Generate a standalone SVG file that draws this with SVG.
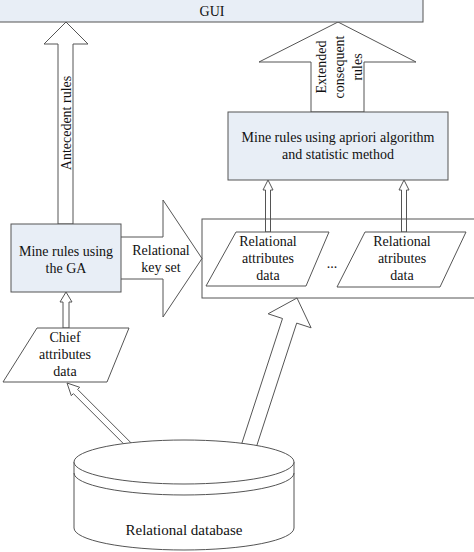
<svg xmlns="http://www.w3.org/2000/svg" width="474" height="552" viewBox="0 0 474 552">
<style>
.box{fill:#e8eef6;stroke:#555;stroke-width:1}
.shp{fill:#fff;stroke:#555;stroke-width:1;stroke-linejoin:miter}
.t{font-family:'Liberation Serif','Times New Roman',serif;font-size:14px;fill:#111;text-anchor:middle}
</style>
<rect width="474" height="552" fill="#fff"/>
<g id="connectors">
<path class="shp" d="M66,22 L88,44 L73,44 L73,224 L58,224 L58,44 L44,44 Z"/>
<path class="shp" d="M338,22 L416,62 L364,62 L364,112 L311,112 L311,62 L259,62 Z"/>
<path class="shp" d="M268,180 L273,190 L270.5,190 L270.5,232 L265.5,232 L265.5,190 L263,190 Z"/>
<path class="shp" d="M404,180 L409,190 L406.5,190 L406.5,232 L401.5,232 L401.5,190 L399,190 Z"/>
<path class="shp" d="M66,292 L72,302 L69,302 L69,328 L63,328 L63,302 L60,302 Z"/>
<path class="shp" d="M120,237 L163,237 L163,200 L202,258.5 L163,317 L163,279 L120,279 Z"/>
<path class="shp" d="M67,383 L79.7,387.3 L77.6,389.4 L130.6,442.4 L126.4,446.6 L73.4,393.6 L71.3,395.7 Z"/>
<path class="shp" d="M297,298 L311.1,327.8 L296.7,323.1 L256,448 L241.8,443.4 L282.5,318.5 L268.1,313.8 Z"/>
<text class="t" transform="translate(66,123) rotate(-90)" y="5">Antecedent rules</text>
<text class="t" transform="translate(321,67) rotate(-90)" y="5">Extended</text>
<text class="t" transform="translate(339,67) rotate(-90)" y="5">consequent</text>
<text class="t" transform="translate(357,67) rotate(-90)" y="5">rules</text>
<text class="t" x="161" y="255">Relational</text>
<text class="t" x="161" y="272">key set</text>
</g>
<g id="gui">
<rect class="box" x="-1" y="-1" width="424" height="23"/>
<text class="t" x="212" y="16">GUI</text>
</g>
<g id="apriori">
<rect class="box" x="228" y="112" width="220" height="68"/>
<text class="t" x="338" y="142">Mine rules using apriori algorithm</text>
<text class="t" x="338" y="159">and statistic method</text>
</g>
<g id="ga">
<rect class="box" x="11" y="224" width="110" height="68"/>
<text class="t" x="66" y="256">Mine rules using</text>
<text class="t" x="66" y="273">the GA</text>
</g>
<g id="container">
<rect x="202" y="219" width="280" height="79" fill="none" stroke="#555"/>
</g>
<g id="rel1">
<path class="shp" d="M236,232 L329,232 L306,286 L206,286 Z"/>
<text class="t" x="268" y="246">Relational</text>
<text class="t" x="268" y="263">attributes</text>
<text class="t" x="268" y="280">data</text>
</g>
<text class="t" x="332" y="268">...</text>
<g id="rel2">
<path class="shp" d="M365,232 L466,232 L440,287 L337,287 Z"/>
<text class="t" x="402" y="246">Relational</text>
<text class="t" x="402" y="263">atributes</text>
<text class="t" x="402" y="280">data</text>
</g>
<g id="chief">
<path class="shp" d="M37,328 L129,328 L107,382 L3,382 Z"/>
<text class="t" x="65" y="342">Chief</text>
<text class="t" x="65" y="359">attributes</text>
<text class="t" x="65" y="376">data</text>
</g>
<g id="database">
<path class="shp" d="M74,462 L74,528 A110,22 0 0 0 294,528 L294,462 Z"/>
<ellipse class="shp" cx="184" cy="462" rx="110" ry="22"/>
<path d="M74,473 A110,22 0 0 0 294,473" fill="none" stroke="#555"/>
<text class="t" x="184" y="535" style="font-size:15px">Relational database</text>
</g>
</svg>
